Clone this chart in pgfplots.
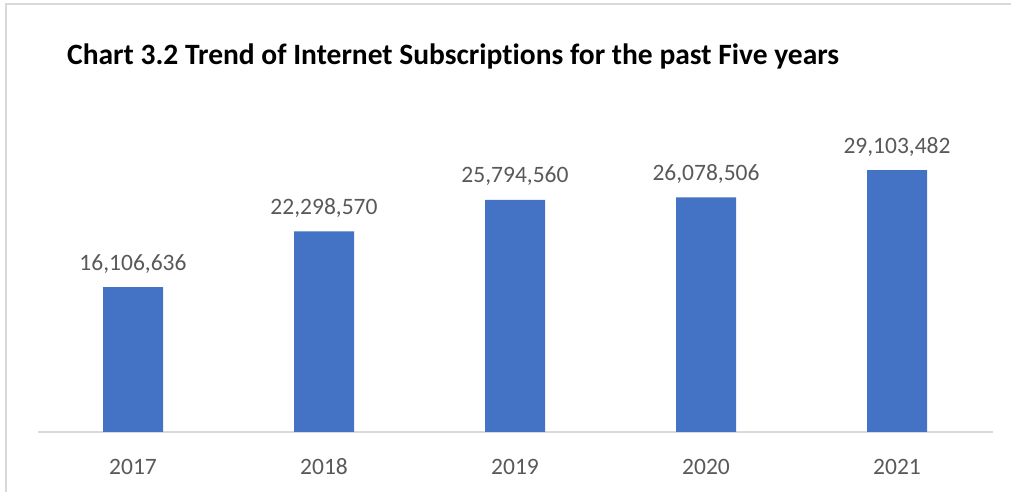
\documentclass[border=0pt]{standalone}
\usepackage{pgfplots}
\pgfplotsset{compat=1.18}
\usepackage{fontspec}
\setmainfont{Carlito}[Ligatures={NoCommon}]
\definecolor{barblue}{HTML}{4472C4}
\definecolor{labgray}{HTML}{595959}
\definecolor{linegray}{HTML}{D9D9D9}
\begin{document}
\begin{tikzpicture}[x=1pt,y=1pt]
\path[use as bounding box] (0,0) rectangle (1011,492);
\draw[linegray, line width=1.4pt] (6,0) -- (6,488) -- (1011,488);
\node[anchor=base west, inner sep=0pt, font=\fontsize{29.5}{34}\selectfont\bfseries] at (67,427) {Chart 3.2 Trend of Internet Subscriptions for the past Five years};
\begin{axis}[
  at={(37.5pt,60pt)}, anchor=south west,
  scale only axis, width=955pt, height=315pt,
  xmin=-0.5, xmax=4.5, ymin=0, ymax=35000000,
  clip=false,
  axis x line*=bottom, hide y axis,
  x axis line style={draw=linegray, line width=1.3pt},
  xtick=data, xticklabels={2017,2018,2019,2020,2021},
  xtick style={draw=none},
  xticklabel style={anchor=base, inner sep=0pt, yshift=-38.7pt, text=labgray, font=\fontsize{23.5}{28}\selectfont},
  ytick=\empty,
  ybar, bar width=60pt,
  point meta=explicit symbolic,
  nodes near coords={\pgfplotspointmeta},
  nodes near coords style={anchor=base, inner sep=0pt, yshift=17pt, text=labgray, font=\fontsize{23.5}{28}\selectfont},
]
\addplot[fill=barblue, draw=none] table[x=x, y=y, meta=lab] {
x y lab
0 16106636 16,106,636
1 22298570 22,298,570
2 25794560 25,794,560
3 26078506 26,078,506
4 29103482 29,103,482
};
\end{axis}
\end{tikzpicture}
\end{document}
